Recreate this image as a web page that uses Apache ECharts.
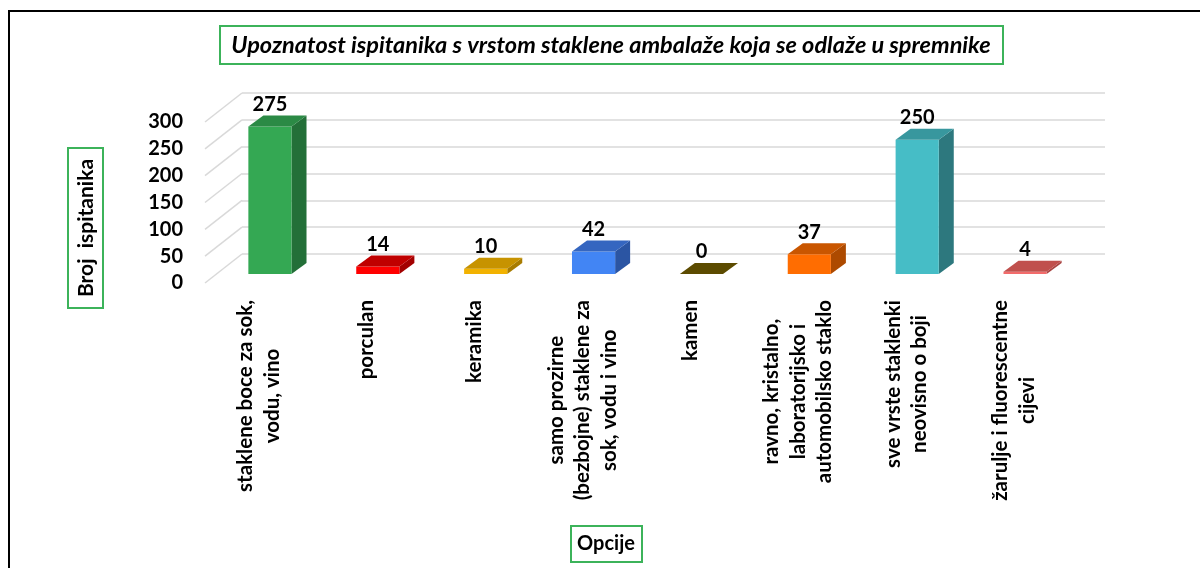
<!DOCTYPE html>
<html>
<head>
<meta charset="utf-8">
<script src="https://cdn.jsdelivr.net/npm/echarts/dist/echarts.min.js"></script>
<style>
html,body{margin:0;padding:0;background:#fff;}
#c{width:1200px;height:568px;}
</style>
</head>
<body>
<div id="c"></div>
<script>
// ---- data ----
var categories = [
  "staklene boce za sok,\nvodu, vino",
  "porculan",
  "keramika",
  "samo prozirne\n(bezbojne) staklene za\nsok, vodu i vino",
  "kamen",
  "ravno, kristalno,\nlaboratorijsko i\nautomobilsko staklo",
  "sve vrste staklenki\nneovisno o boji",
  "žarulje i fluorescentne\ncijevi"
];
var values = [275, 14, 10, 42, 0, 37, 250, 4];
var yTicks = [0, 50, 100, 150, 200, 250, 300];
var titleText = "Upoznatost ispitanika s vrstom staklene ambalaže koja se odlaže u spremnike";
var yName = "Broj  ispitanika";
var xName = "Opcije";

// ---- styles ----
var frontColors = ["#34a853", "#ff0000", "#f2b200", "#4285f4", "#5c4b00", "#ff6d01", "#46bdc6", "#f26b6b"];
var topColors   = ["#2b8a45", "#c00000", "#c79300", "#3566c0", "#5c4b00", "#c95600", "#38979e", "#c0504d"];
var sideColors  = ["#236f38", "#a30000", "#a87c00", "#2b55a3", "#4a3c00", "#ad4a00", "#2d787e", "#a84442"];

var FONT = "Lato, 'Open Sans', sans-serif";
var FRONT_DX = -26, FRONT_DY = 20;   // bar front face offset from back wall
var DEPTH_DX = 15, DEPTH_DY = -11;   // bar depth
var FLOOR_DX = -37, FLOOR_DY = 29;   // front edge offset from back wall

var chart = echarts.init(document.getElementById('c'), null, {renderer: 'canvas'});

var option = {
  animation: false,
  backgroundColor: '#fff',
  grid: [
    {left: 242, top: 93, width: 863, height: 161},   // back wall
    {left: 205, top: 122, width: 863, height: 161}   // front edge
  ],
  xAxis: [
    {type: 'category', gridIndex: 0, data: categories, axisLine: {show: false}, axisTick: {show: false}, axisLabel: {show: false}},
    {type: 'category', gridIndex: 1, data: categories, axisLine: {show: false}, axisTick: {show: false},
     axisLabel: {
       show: true, rotate: 90, margin: 17, interval: 0,
       formatter: function (v) { return v.split('\n').map(function (l) { return '{c|' + l + '}'; }).join('\n'); },
       rich: {c: {align: 'center', fontFamily: FONT, fontWeight: 'bold', fontSize: 20.5, lineHeight: 26.5, color: '#000'}}
     }}
  ],
  yAxis: [
    {type: 'value', gridIndex: 0, min: 0, max: 300, interval: 50, axisLine: {show: false}, axisTick: {show: false},
     axisLabel: {show: false}, splitLine: {show: true, lineStyle: {color: '#d9d9d9', width: 1.5}}},
    {type: 'value', gridIndex: 1, min: 0, max: 300, interval: 50, axisLine: {show: false}, axisTick: {show: false},
     axisLabel: {show: true, margin: 22, fontFamily: FONT, fontWeight: 'bold', fontSize: 20, color: '#000'},
     splitLine: {show: false}}
  ],
  series: [
    {
      type: 'custom', xAxisIndex: 0, yAxisIndex: 0, z: 1, silent: true,
      data: yTicks.map(function (t) { return [0, t]; }),
      renderItem: function (params, api) {
        var p = api.coord([0, api.value(1)]);
        var left = params.coordSys.x;
        return {type: 'line', shape: {x1: left, y1: p[1], x2: left + FLOOR_DX, y2: p[1] + FLOOR_DY},
                style: {stroke: '#d9d9d9', lineWidth: 1.5}};
      }
    },
    {
      type: 'custom', xAxisIndex: 0, yAxisIndex: 0, z: 5, silent: true,
      data: values.map(function (v, i) { return [i, v]; }),
      renderItem: function (params, api) {
        var i = api.value(0), v = api.value(1);
        var base = api.coord([i, 0]);
        var topP = api.coord([i, v]);
        var band = api.size([1, 0])[0];
        var w = band * 0.4;
        var cx = base[0] + FRONT_DX;
        var y0 = base[1] + FRONT_DY;
        var yT = topP[1] + FRONT_DY;
        var x0 = cx - w / 2, x1 = cx + w / 2;
        var ch = [];
        if (v > 0) {
          ch.push({type: 'polygon', shape: {points: [[x1, yT], [x1, y0], [x1 + DEPTH_DX, y0 + DEPTH_DY], [x1 + DEPTH_DX, yT + DEPTH_DY]]},
                   style: {fill: sideColors[i]}});
          ch.push({type: 'rect', shape: {x: x0, y: yT, width: w, height: y0 - yT}, style: {fill: frontColors[i]}});
        }
        ch.push({type: 'polygon', shape: {points: [[x0, yT], [x1, yT], [x1 + DEPTH_DX, yT + DEPTH_DY], [x0 + DEPTH_DX, yT + DEPTH_DY]]},
                 style: {fill: topColors[i]}});
        ch.push({type: 'text', x: cx, y: yT - 22,
                 style: {text: String(v), fill: '#000', font: 'bold 20px ' + FONT, textAlign: 'center', textVerticalAlign: 'middle'}});
        return {type: 'group', children: ch};
      }
    }
  ],
  graphic: [
    {type: 'rect', shape: {x: 9, y: 11, width: 1300, height: 700}, style: {fill: 'none', stroke: '#000', lineWidth: 2}, z: 0},
    {type: 'rect', shape: {x: 220, y: 26, width: 783, height: 38}, style: {fill: '#fff', stroke: '#3cb35a', lineWidth: 2}, z: 10},
    {type: 'text', x: 611, y: 45, style: {text: titleText, font: 'italic bold 23.5px ' + FONT, fill: '#000', textAlign: 'center', textVerticalAlign: 'middle'}, z: 11},
    {type: 'rect', shape: {x: 68, y: 148, width: 35, height: 160}, style: {fill: '#fff', stroke: '#3cb35a', lineWidth: 2}, z: 10},
    {type: 'text', x: 86, y: 228, rotation: Math.PI / 2, style: {text: yName, font: 'bold 21px ' + FONT, fill: '#000', textAlign: 'center', textVerticalAlign: 'middle'}, z: 11},
    {type: 'rect', shape: {x: 571, y: 526, width: 71, height: 36}, style: {fill: '#fff', stroke: '#3cb35a', lineWidth: 2}, z: 10},
    {type: 'text', x: 606, y: 544, style: {text: xName, font: 'bold 20px ' + FONT, fill: '#000', textAlign: 'center', textVerticalAlign: 'middle'}, z: 11}
  ]
};
chart.setOption(option);
</script>
</body>
</html>
